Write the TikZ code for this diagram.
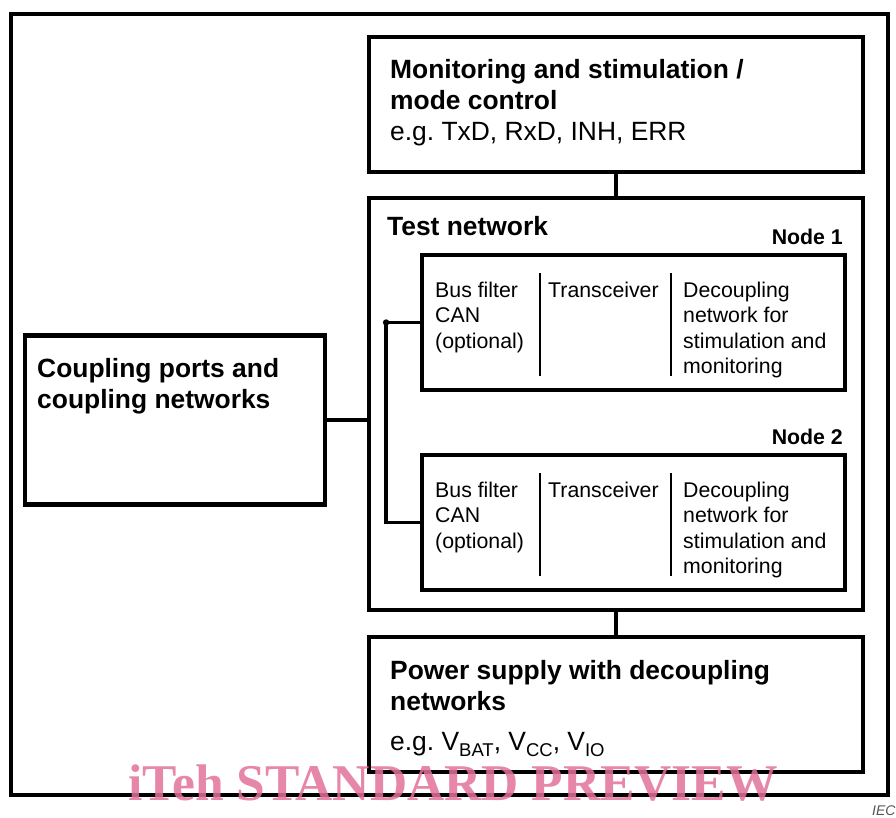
\documentclass[tikz,border=0pt]{standalone}
\usepackage{fontspec}
\setmainfont{Liberation Sans}
\newfontfamily\wmfont{Liberation Serif}
\usepackage{xcolor}
\usepackage{tikz}
\usetikzlibrary{positioning, calc}
\definecolor{wmpink}{HTML}{E2719A}
\definecolor{iecgray}{HTML}{555555}
\newcommand\lowsub[1]{\raisebox{-6.5pt}{\fontsize{18.5}{18.5}\selectfont #1}}

\tikzset{
  block/.style={draw, line width=4.5pt, minimum width=494pt, inner sep=0pt},
  canbox/.style={draw, line width=3.8pt, minimum width=423pt, minimum height=135pt, inner sep=0pt},
  bigtext/.style={anchor=base west, inner sep=0pt, align=left, font={\fontsize{26.4}{31}\selectfont}},
  smalltext/.style={anchor=base west, inner sep=0pt, align=left, font={\fontsize{21.3}{25.5}\selectfont}},
  divider/.style={line width=2.7pt},
  bus/.style={line width=3.5pt},
}

\begin{document}
\begin{tikzpicture}[x=1pt, y=-1pt]
    \useasboundingbox (0,0) rectangle (896,817);
    \draw[line width=4.5pt] (11,14) rectangle (888,795);

    % main blocks
    \node[block, minimum height=135pt] (monitor) at (616,104.5) {};
    \node[block, minimum height=412pt] (testnet) at (616,404) {};
    \node[block, minimum height=135pt] (power) at (616,704.5) {};
    \node[block, minimum width=300pt, minimum height=169pt] (coupling) at (175,420) {};

    % texts (base = last line)
    \node[bigtext] (montext) at (390,140) {%
      \textbf{Monitoring and stimulation /}\\
      \textbf{mode control}\\
      e.g.\ TxD, RxD, INH, ERR};
    \node[bigtext] (testtext) at (387,235) {\textbf{Test network}};
    \node[bigtext] (couptext) at (37,408) {%
      \textbf{Coupling ports and}\\
      \textbf{coupling networks}};
    \node[bigtext] (powtext) at (390,750) {%
      \textbf{Power supply with decoupling}\\
      \textbf{networks}\\[9pt]
      e.g.\ V\lowsub{BAT}, V\lowsub{CC}, V\lowsub{IO}};

    \draw[line width=4.5pt] (monitor) -- (testnet);
    \draw[line width=4.5pt] (testnet) -- (power);
    \draw[line width=4.5pt] (coupling.east) -- (coupling.east -| testnet.west);

    % CAN nodes
    \foreach \n/\y in {1/322.5, 2/522.5} {
      \node[canbox] (node\n) at (633.5,\y) {};
      \node[smalltext, anchor=base east] (label\n) at (843,\y-78.5) {\textbf{Node \n}};
      \node[smalltext] (filter\n) at (435,\y+25.5) {Bus filter\\CAN\\(optional)};
      \node[smalltext] (trx\n) at (548,\y-25.5) {Transceiver};
      \node[smalltext] (decoup\n) at (683,\y+51) {Decoupling\\network for\\stimulation and\\monitoring};
      \draw[divider] (540,\y-49.5) -- (540,\y+53.5);
      \draw[divider] (671,\y-49.5) -- (671,\y+53.5);
    }

    \coordinate (busjoint) at ([xshift=-34pt]node1.west);
    \draw[bus] (busjoint) -- (node1.west);
    \draw[bus] (busjoint) |- (node2.west);
    \fill (busjoint) circle (3.2pt);

    \node[anchor=base west, inner sep=0pt, text=wmpink, text opacity=0.85,
          font={\wmfont\bfseries\fontsize{51.5}{51.5}\selectfont}] (watermark) at (128,800) {iTeh STANDARD PREVIEW};
    \node[anchor=base west, inner sep=0pt, text=iecgray,
          font={\itshape\fontsize{14}{14}\selectfont}] (iec) at (872,815) {IEC};
\end{tikzpicture}
\end{document}
